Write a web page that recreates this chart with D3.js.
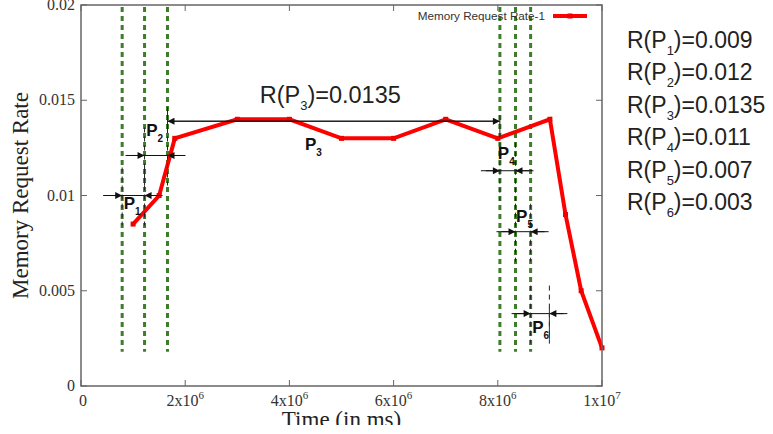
<!DOCTYPE html>
<html>
<head>
<meta charset="utf-8">
<script src="https://cdn.jsdelivr.net/npm/d3@7"></script>
<style>
  body { margin: 0; background: #fff; }
  svg { display: block; }
</style>
</head>
<body>
<div id="chart"></div>
<script>
// memory request rate over time (gnuplot style figure)
var timeMs = [1.0e6, 1.5e6, 1.8e6, 3e6, 4e6, 5e6, 6e6, 7e6, 8e6, 9e6, 9.3e6, 9.6e6, 1e7];
var rate   = [0.0085, 0.010, 0.013, 0.014, 0.014, 0.013, 0.013, 0.014, 0.013, 0.014, 0.009, 0.005, 0.002];

var xTicks = [0, 2e6, 4e6, 6e6, 8e6, 1e7];
var xTickLabels = [["0", ""], ["2x10", "6"], ["4x10", "6"], ["6x10", "6"], ["8x10", "6"], ["1x10", "7"]];
var yTicks = [0, 0.005, 0.01, 0.015, 0.02];
var yTickLabels = ["0", "0.005", "0.01", "0.015", "0.02"];

// phase boundaries (green dashed lines)
var phaseBounds = [0.79e6, 1.22e6, 1.66e6, 8.04e6, 8.34e6, 8.63e6];
// phase annotations: start, end, rate level of the arrow
var phaseNames = ["1", "2", "3", "4", "5", "6"];
var phaseStart = [0.79e6, 1.22e6, 1.66e6, 8.04e6, 8.34e6, 8.63e6];
var phaseEnd   = [1.22e6, 1.66e6, 8.04e6, 8.34e6, 8.63e6, 8.99e6];
var phaseLevel = [0.0100, 0.0121, 0.0139, 0.0113, 0.0081, 0.0038];
var phaseRates = ["0.009", "0.012", "0.0135", "0.011", "0.007", "0.003"];
// where the P labels sit (time, rate)
var labelTime = [0.82e6, 1.25e6, 4.3e6, 8.0e6, 8.35e6, 8.66e6];
var labelRate = [0.0093, 0.0131, 0.0124, 0.0119, 0.0086, 0.0028];

var width = 773, height = 434;
var margin = {left: 81, top: 5, right: 171, bottom: 48};

var svg = d3.select("#chart").append("svg")
    .attr("width", width)
    .attr("height", height);

var defs = svg.append("defs");
defs.append("clipPath").attr("id", "pageclip")
  .append("rect").attr("x", 0).attr("y", 0).attr("width", width).attr("height", 425);
defs.append("marker").attr("id", "arr")
    .attr("viewBox", "0 0 10 10").attr("refX", 10).attr("refY", 5)
    .attr("markerWidth", 10).attr("markerHeight", 7)
    .attr("markerUnits", "userSpaceOnUse")
    .attr("orient", "auto")
  .append("path").attr("d", "M0,0L10,5L0,10z").attr("fill", "#111");

var root = svg.append("g").attr("clip-path", "url(#pageclip)");

var x = d3.scaleLinear().domain([0, 1e7]).range([margin.left, width - margin.right]);
var y = d3.scaleLinear().domain([0, 0.02]).range([height - margin.bottom, margin.top]);

var x0 = x.range()[0], x1 = x.range()[1], y0 = y.range()[0], y1 = y.range()[1];

// frame ticks (inward, mirrored)
var axisColor = "#666";
var tickG = root.append("g").attr("stroke", axisColor).attr("stroke-width", 1);
yTicks.forEach(function(v) {
    tickG.append("line").attr("x1", x0).attr("x2", x0 + 6).attr("y1", y(v)).attr("y2", y(v));
    tickG.append("line").attr("x1", x1).attr("x2", x1 - 6).attr("y1", y(v)).attr("y2", y(v));
});
xTicks.forEach(function(v) {
    tickG.append("line").attr("x1", x(v)).attr("x2", x(v)).attr("y1", y0).attr("y2", y0 - 6);
    tickG.append("line").attr("x1", x(v)).attr("x2", x(v)).attr("y1", y1).attr("y2", y1 + 6);
});

// green dashed phase lines
root.selectAll(".phase")
    .data(phaseBounds)
  .enter().append("line")
    .attr("class", "phase")
    .attr("x1", function(d) { return x(d); })
    .attr("x2", function(d) { return x(d); })
    .attr("y1", y(0.0199))
    .attr("y2", y(0.0018))
    .attr("stroke", "#3e7d2a")
    .attr("stroke-width", 3)
    .attr("stroke-dasharray", "5,4");

// the data line
var line = d3.line()
    .x(function(d) { return x(d[0]); })
    .y(function(d) { return y(d[1]); });
var pts = timeMs.map(function(t, i) { return [t, rate[i]]; });

root.append("path")
    .datum(pts)
    .attr("d", line)
    .attr("fill", "none")
    .attr("stroke", "#f00")
    .attr("stroke-width", 4)
    .attr("stroke-linejoin", "miter");

root.selectAll(".pt")
    .data(pts)
  .enter().append("rect")
    .attr("class", "pt")
    .attr("x", function(d) { return x(d[0]) - 2.5; })
    .attr("y", function(d) { return y(d[1]) - 2.5; })
    .attr("width", 5).attr("height", 5)
    .attr("fill", "#e00");

// phase annotations
var ann = root.append("g");
phaseNames.forEach(function(p, i) {
    var xa = x(phaseStart[i]), xb = x(phaseEnd[i]), ya = y(phaseLevel[i]);
    var wide = (xb - xa) > 100;
    if (wide) {
        ann.append("line").attr("x1", xa + 1).attr("x2", xb).attr("y1", ya).attr("y2", ya)
            .attr("stroke", "#111").attr("stroke-width", 1).attr("marker-end", "url(#arr)");
        ann.append("line").attr("x1", xb - 1).attr("x2", xa).attr("y1", ya).attr("y2", ya)
            .attr("stroke", "#111").attr("stroke-width", 1).attr("marker-end", "url(#arr)");
        ann.append("line").attr("x1", xa).attr("x2", xa).attr("y1", ya - 14).attr("y2", ya + 12)
            .attr("stroke", "#222").attr("stroke-width", 1);
        ann.append("line").attr("x1", xb).attr("x2", xb).attr("y1", ya - 6).attr("y2", ya + 16)
            .attr("stroke", "#222").attr("stroke-width", 1);
    } else {
        ann.append("line").attr("x1", xa - 19).attr("x2", xb + 18).attr("y1", ya).attr("y2", ya)
            .attr("stroke", "#111").attr("stroke-width", 1);
        ann.append("line").attr("x1", xa - 14).attr("x2", xa).attr("y1", ya).attr("y2", ya)
            .attr("stroke", "#111").attr("stroke-width", 1).attr("marker-end", "url(#arr)");
        ann.append("line").attr("x1", xb + 14).attr("x2", xb).attr("y1", ya).attr("y2", ya)
            .attr("stroke", "#111").attr("stroke-width", 1).attr("marker-end", "url(#arr)");
        ann.append("line").attr("x1", xa).attr("x2", xa).attr("y1", ya - 28).attr("y2", ya + 30)
            .attr("stroke", "#222").attr("stroke-width", 1).attr("stroke-dasharray", "5,4");
        ann.append("line").attr("x1", xb).attr("x2", xb).attr("y1", ya - 28).attr("y2", ya + 30)
            .attr("stroke", "#222").attr("stroke-width", 1).attr("stroke-dasharray", "5,4");
    }
});
// closing tick of the last phase
ann.append("line")
    .attr("x1", x(phaseEnd[5])).attr("x2", x(phaseEnd[5]))
    .attr("y1", y(phaseLevel[5]) - 6).attr("y2", y(phaseLevel[5]) + 26)
    .attr("stroke", "#333").attr("stroke-width", 1);

// P labels
phaseNames.forEach(function(p, i) {
    var t = ann.append("text")
        .attr("x", x(labelTime[i])).attr("y", y(labelRate[i]))
        .attr("font-family", "Liberation Sans, Arial, sans-serif")
        .attr("font-weight", "bold")
        .attr("font-size", 17)
        .attr("fill", "#111");
    t.append("tspan").text("P");
    t.append("tspan").attr("dy", 6).attr("font-size", 10).text(p);
});

// R(P3) big label
var r3 = ann.append("text")
    .attr("x", x(3.43e6)).attr("y", y(0.01487))
    .attr("font-family", "Liberation Sans, Arial, sans-serif")
    .attr("font-size", 23.5)
    .attr("fill", "#222");
r3.append("tspan").text("R(P");
r3.append("tspan").attr("dy", 7).attr("font-size", 13).text("3");
r3.append("tspan").attr("dy", -7).text(")=0.0135");

// frame
root.append("rect")
    .attr("x", x0).attr("y", y1)
    .attr("width", x1 - x0).attr("height", y0 - y1)
    .attr("fill", "none")
    .attr("stroke", axisColor)
    .attr("stroke-width", 1.5);

// tick labels
var serif = "Liberation Serif, Times New Roman, serif";
root.selectAll(".ylab")
    .data(yTicks)
  .enter().append("text")
    .attr("class", "ylab")
    .attr("x", x0 - 6)
    .attr("y", function(d) { return y(d) + 5; })
    .attr("text-anchor", "end")
    .attr("font-family", serif)
    .attr("font-size", 16)
    .attr("fill", "#333")
    .text(function(d, i) { return yTickLabels[i]; });

xTicks.forEach(function(v, i) {
    var t = root.append("text")
        .attr("x", x(v) + (i == 0 ? 2 : 0))
        .attr("y", y0 + 20)
        .attr("text-anchor", "middle")
        .attr("font-family", serif)
        .attr("font-size", 16)
        .attr("fill", "#333");
    t.append("tspan").text(xTickLabels[i][0]);
    if (xTickLabels[i][1]) {
        t.append("tspan").attr("dy", -7).attr("font-size", 11).text(xTickLabels[i][1]);
    }
});

// axis titles
root.append("text")
    .attr("transform", "translate(28," + ((y0 + y1) / 2) + ") rotate(-90)")
    .attr("text-anchor", "middle")
    .attr("font-family", serif)
    .attr("font-size", 23)
    .attr("fill", "#222")
    .text("Memory Request Rate");

root.append("text")
    .attr("x", (x0 + x1) / 2)
    .attr("y", 427)
    .attr("text-anchor", "middle")
    .attr("font-family", serif)
    .attr("font-size", 23)
    .attr("fill", "#222")
    .text("Time (in ms)");

// legend
root.append("text")
    .attr("x", 545).attr("y", 20)
    .attr("text-anchor", "end")
    .attr("font-family", "Liberation Sans, Arial, sans-serif")
    .attr("font-size", 11.7)
    .attr("fill", "#333")
    .text("Memory Request Rate-1");
root.append("line")
    .attr("x1", 553).attr("x2", 587).attr("y1", 16).attr("y2", 16)
    .attr("stroke", "#f00").attr("stroke-width", 4);
root.append("rect")
    .attr("x", 567.5).attr("y", 13.5).attr("width", 5).attr("height", 5).attr("fill", "#e00");

// rates listed on the right
var side = root.append("g");
phaseRates.forEach(function(r, i) {
    var t = side.append("text")
        .attr("x", 627)
        .attr("y", 48 + i * 32.4)
        .attr("font-family", "Liberation Sans, Arial, sans-serif")
        .attr("font-size", 23)
        .attr("fill", "#222");
    t.append("tspan").text("R(P");
    t.append("tspan").attr("dy", 7).attr("font-size", 13).text(phaseNames[i]);
    t.append("tspan").attr("dy", -7).text(")=" + r);
});
</script>
</body>
</html>
